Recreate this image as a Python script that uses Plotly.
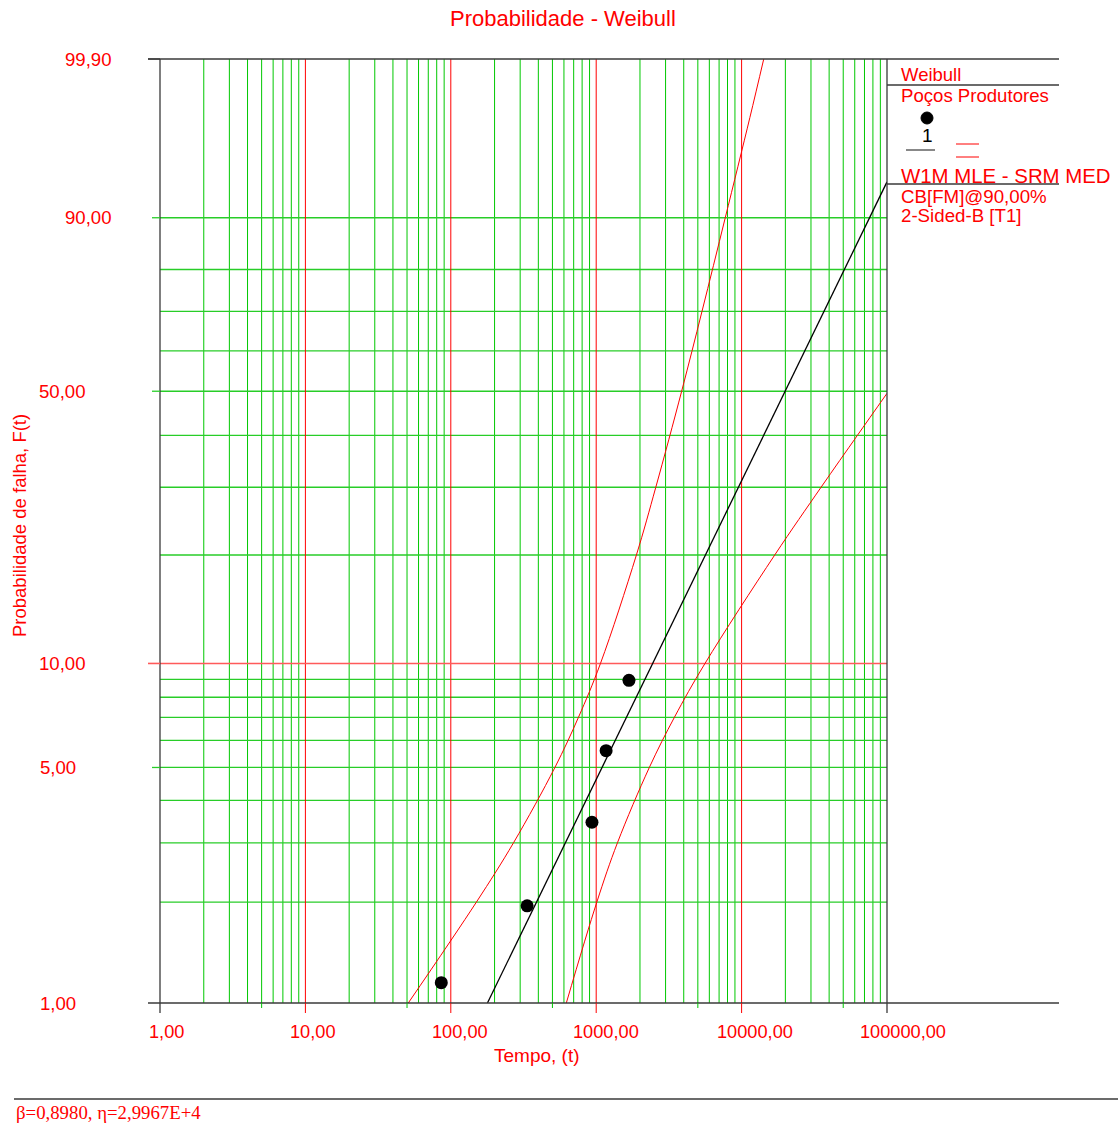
import math
import numpy as np
import plotly.graph_objects as go

# Weibull fit parameters (MLE)
beta = 0.8980
eta = 2.9967e4

# Failure times and their plotting positions (%)
fail_time = [86, 335, 935, 1170, 1680]
fail_prob = [1.15, 1.95, 3.45, 5.6, 8.95]

# 90% two-sided Fisher-matrix bounds on time
bound_prob_upper = [1, 2, 3, 5, 7, 10, 20, 30, 50, 70, 90, 99, 99.9]
bound_time_upper = [51, 150, 270, 520, 755, 1070, 1890, 2570, 3870, 5340, 7720, 11400, 14200]
bound_prob_lower = [1, 2, 3, 5, 7, 10, 20, 30, 40, 49.5]
bound_time_lower = [623, 1010, 1400, 2320, 3450, 5600, 16900, 35200, 62600, 100000]

# Axis ticks
x_tick_vals = [1, 10, 100, 1000, 10000, 100000]
x_tick_text = ["1,00", "10,00", "100,00", "1000,00", "10000,00", "100000,00"]
y_tick_vals = [1, 5, 10, 50, 90, 99.9]
y_tick_text = ["1,00", "5,00", "10,00", "50,00", "90,00", "99,90"]

# Grid probabilities (%)
grid_prob_green = [2, 3, 4, 5, 6, 7, 8, 9, 20, 30, 40, 50, 60, 70, 80, 90]
grid_prob_red = [10]

RED = "#ff0000"
GREEN = "rgb(0,200,0)"
FRAME = "#3a3a3a"
FONT = "Liberation Sans, Arial, sans-serif"


def wb(p):
    """Weibull probability scale: ln(-ln(1-F))."""
    return math.log(-math.log(1.0 - p / 100.0))


Y0, Y1 = wb(1), wb(99.9)
X0, X1 = 0, 5  # log10 range

# Figure geometry
W, H = 1118, 1126
L, R, T, B = 160, 231, 59, 123
PW, PH = W - L - R, H - T - B


def px(x):
    return (x - L) / PW


def py(y):
    return (H - B - y) / PH


def xfrac(v):
    return (math.log10(v) - X0) / (X1 - X0)


def yfrac(p):
    return (wb(p) - Y0) / (Y1 - Y0)


fig = go.Figure()

# Vertical grid lines
vx_green, vy_green, vx_red, vy_red = [], [], [], []
for d in range(5):
    for k in range(2, 10):
        vx_green += [k * 10 ** d, k * 10 ** d, None]
        vy_green += [Y0, Y1, None]
for d in range(1, 5):
    vx_red += [10 ** d, 10 ** d, None]
    vy_red += [Y0, Y1, None]

# Horizontal grid lines
hx_green, hy_green, hx_red, hy_red = [], [], [], []
for p in grid_prob_green:
    hx_green += [1, 1e5, None]
    hy_green += [wb(p), wb(p), None]
for p in grid_prob_red:
    hx_red += [1, 1e5, None]
    hy_red += [wb(p), wb(p), None]

fig.add_trace(go.Scatter(x=vx_green, y=vy_green, mode="lines",
                         line=dict(color=GREEN, width=1), hoverinfo="skip", showlegend=False))
fig.add_trace(go.Scatter(x=hx_green, y=hy_green, mode="lines",
                         line=dict(color="rgb(40,205,40)", width=1.3), hoverinfo="skip",
                         showlegend=False))
fig.add_trace(go.Scatter(x=vx_red, y=vy_red, mode="lines",
                         line=dict(color=RED, width=1), hoverinfo="skip", showlegend=False))
fig.add_trace(go.Scatter(x=hx_red, y=hy_red, mode="lines",
                         line=dict(color="rgb(255,90,90)", width=1.6), hoverinfo="skip",
                         showlegend=False))

# Confidence bounds
fig.add_trace(go.Scatter(x=bound_time_upper, y=[wb(p) for p in bound_prob_upper], mode="lines",
                         line=dict(color=RED, width=1, shape="spline", smoothing=1.0),
                         showlegend=False))
fig.add_trace(go.Scatter(x=bound_time_lower, y=[wb(p) for p in bound_prob_lower], mode="lines",
                         line=dict(color=RED, width=1, shape="spline", smoothing=1.0),
                         showlegend=False))

# Fitted Weibull line
t_start = eta * (-math.log(0.99)) ** (1.0 / beta)
t_fit = np.logspace(math.log10(t_start), 5, 60)
w_fit = beta * (np.log(t_fit) - math.log(eta))
fig.add_trace(go.Scatter(x=t_fit, y=w_fit, mode="lines",
                         line=dict(color="black", width=1.3), showlegend=False))

# Failure points
fig.add_trace(go.Scatter(x=fail_time, y=[wb(p) for p in fail_prob], mode="markers",
                         marker=dict(color="black", size=13), showlegend=False))

shapes = []


def seg(x0, y0, x1, y1, color, width=1):
    shapes.append(dict(type="line", xref="paper", yref="paper", x0=x0, y0=y0, x1=x1, y1=y1,
                       line=dict(color=color, width=width), layer="above"))


# Frame
seg(px(148), 1, px(1059), 1, FRAME, 1.6)
seg(px(148), 0, px(1059), 0, FRAME, 1.6)
seg(0, py(1013), 0, 1, FRAME, 1.3)
seg(1, py(1013), 1, 1, FRAME, 1.3)
seg(1, py(85), px(1059), py(85), FRAME, 1.3)
seg(1, py(184), px(1059), py(184), FRAME, 1.3)

# Tick extensions
for d in range(1, 5):
    seg(xfrac(10 ** d), py(1003), xfrac(10 ** d), py(1013), RED)
for d in range(5):
    seg(xfrac(5 * 10 ** d), py(1003), xfrac(5 * 10 ** d), py(1008), GREEN)
seg(px(148), yfrac(10), 0, yfrac(10), "rgb(255,90,90)", 1.6)
for p in [5, 50, 90]:
    seg(px(152), yfrac(p), 0, yfrac(p), "rgb(40,205,40)", 1.3)
seg(px(148), yfrac(99.9), 0, yfrac(99.9), FRAME, 1.3)

# Bottom rule
seg(px(14), py(1099), px(1118), py(1099), FRAME, 1.3)

# Legend symbols
shapes.append(dict(type="circle", xref="paper", yref="paper", x0=px(921), x1=px(933),
                   y0=py(124), y1=py(112), fillcolor="black", line=dict(color="black", width=1)))
seg(px(906), py(150), px(935), py(150), FRAME, 1.2)
seg(px(956), py(144), px(979), py(144), RED)
seg(px(956), py(157), px(979), py(157), RED)

annotations = []


def label(text, x, y, size=18, color=RED, xanchor="left", family=FONT, angle=0):
    annotations.append(dict(text=text, x=x, y=y, xref="paper", yref="paper", showarrow=False,
                            xanchor=xanchor, yanchor="middle", textangle=angle,
                            font=dict(family=family, size=size, color=color)))


# Title
label("Probabilidade - Weibull", px(563), py(18), size=22, xanchor="center")

# X tick labels
x_label_centers = [166, 313, 460, 606, 755, 903]
for txt, cx in zip(x_tick_text, x_label_centers):
    label(txt, px(cx), py(1032), size=18.2, xanchor="center")

# Y tick labels
y_label_left = [38, 38, 37, 37, 63, 63]
for v, txt, lx in zip(y_tick_vals, y_tick_text, y_label_left):
    label(txt, px(lx), yfrac(v), size=18.6, xanchor="left")

# Axis titles
label("Tempo, (t)", px(537), py(1055), size=19, xanchor="center")
label("Probabilidade de falha, F(t)", px(19), py(526), size=18.5, xanchor="center", angle=-90)

# Legend text
label("Weibull", px(899), py(75), size=18.5)
label("Poços Produtores", px(899), py(96), size=18.6)
label("1", px(927), py(136), size=19, color="black", xanchor="center")
label("W1M MLE - SRM MED", px(899), py(176), size=20.4)
label("CB[FM]@90,00%", px(899), py(196), size=18.7)
label("2-Sided-B [T1]", px(899), py(216), size=18.7)

# Parameter footer
label("β=0,8980, η=2,9967E+4", px(14), py(1112), size=18.8,
      family="Liberation Serif, Times New Roman, serif")

fig.update_layout(
    width=W, height=H,
    margin=dict(l=L, r=R, t=T, b=B, pad=0),
    paper_bgcolor="white", plot_bgcolor="white",
    xaxis=dict(type="log", range=[X0, X1], showgrid=False, zeroline=False,
               showticklabels=False, ticks="", showline=False),
    yaxis=dict(range=[Y0, Y1], showgrid=False, zeroline=False,
               showticklabels=False, ticks="", showline=False),
    shapes=shapes,
    annotations=annotations,
    showlegend=False,
)

fig.write_html("out.html")
